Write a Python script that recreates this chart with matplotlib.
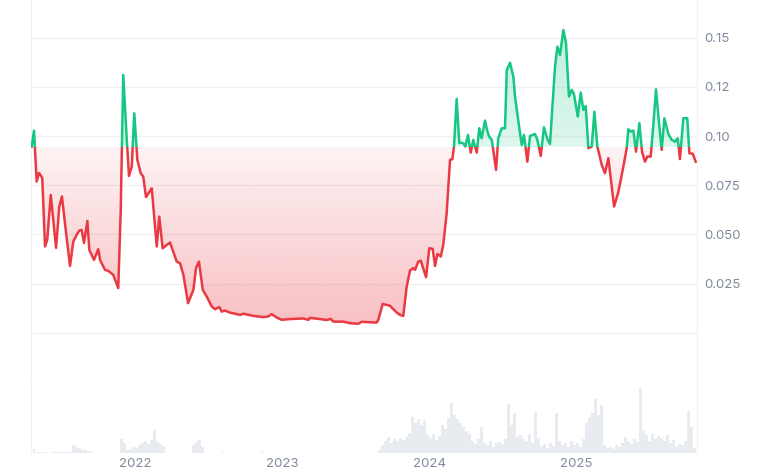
import numpy as np
import matplotlib
matplotlib.use("Agg")
import matplotlib.pyplot as plt
from matplotlib.path import Path
from matplotlib.patches import PathPatch, Rectangle
from matplotlib.colors import to_rgb

plt.rcParams['font.family'] = ['Inter', 'DejaVu Sans']

# price history (decimal year, USD)
years = [2021.297, 2021.313, 2021.331, 2021.347, 2021.369, 2021.388, 2021.403, 2021.427, 2021.444, 2021.463,
         2021.485, 2021.503, 2021.531, 2021.558, 2021.580, 2021.603, 2021.621, 2021.637, 2021.653, 2021.676,
         2021.689, 2021.721, 2021.750, 2021.762, 2021.796, 2021.818, 2021.852, 2021.886, 2021.903, 2021.920,
         2021.944, 2021.959, 2021.978, 2021.995, 2022.016, 2022.039, 2022.056, 2022.075, 2022.114, 2022.148,
         2022.165, 2022.188, 2022.238, 2022.284, 2022.306, 2022.329, 2022.361, 2022.397, 2022.415, 2022.435,
         2022.461, 2022.488, 2022.522, 2022.544, 2022.574, 2022.590, 2022.612, 2022.646, 2022.714, 2022.737,
         2022.805, 2022.873, 2022.907, 2022.930, 2022.964, 2022.998, 2023.054, 2023.145, 2023.179, 2023.190,
         2023.259, 2023.304, 2023.331, 2023.349, 2023.417, 2023.463, 2023.519, 2023.542, 2023.644, 2023.655,
         2023.685, 2023.735, 2023.780, 2023.803, 2023.825, 2023.848, 2023.871, 2023.893, 2023.905, 2023.927,
         2023.944, 2023.980, 2024.002, 2024.025, 2024.041, 2024.057, 2024.080, 2024.097, 2024.120, 2024.143,
         2024.159, 2024.170, 2024.188, 2024.206, 2024.222, 2024.238, 2024.247, 2024.265, 2024.284, 2024.301,
         2024.325, 2024.342, 2024.358, 2024.381, 2024.397, 2024.410, 2024.427, 2024.456, 2024.471, 2024.495,
         2024.517, 2024.529, 2024.551, 2024.574, 2024.585, 2024.619, 2024.631, 2024.646, 2024.669, 2024.687,
         2024.721, 2024.737, 2024.760, 2024.782, 2024.805, 2024.823, 2024.857, 2024.873, 2024.891, 2024.914,
         2024.932, 2024.952, 2024.971, 2024.986, 2025.012, 2025.032, 2025.050, 2025.066, 2025.084, 2025.107,
         2025.125, 2025.145, 2025.175, 2025.197, 2025.220, 2025.259, 2025.288, 2025.322, 2025.345, 2025.356,
         2025.372, 2025.390, 2025.408, 2025.431, 2025.449, 2025.469, 2025.485, 2025.508, 2025.526, 2025.544,
         2025.567, 2025.583, 2025.601, 2025.628, 2025.651, 2025.673, 2025.692, 2025.707, 2025.730, 2025.757,
         2025.771, 2025.794, 2025.814]
prices = [0.0947, 0.1028, 0.0769, 0.0813, 0.0788, 0.0439, 0.0473, 0.0701, 0.0574, 0.0432,
          0.0642, 0.0693, 0.0508, 0.0340, 0.0464, 0.0498, 0.0520, 0.0523, 0.0457, 0.0569,
          0.0422, 0.0371, 0.0425, 0.0371, 0.0320, 0.0315, 0.0295, 0.0227, 0.0625, 0.1311,
          0.0981, 0.0798, 0.0845, 0.1116, 0.0879, 0.0811, 0.0794, 0.0690, 0.0735, 0.0439,
          0.0591, 0.0430, 0.0459, 0.0362, 0.0354, 0.0295, 0.0151, 0.0218, 0.0329, 0.0362,
          0.0218, 0.0184, 0.0134, 0.0120, 0.0131, 0.0108, 0.0113, 0.0103, 0.0091, 0.0097,
          0.0086, 0.0080, 0.0083, 0.0095, 0.0078, 0.0066, 0.0070, 0.0073, 0.0066, 0.0076,
          0.0070, 0.0065, 0.0071, 0.0057, 0.0057, 0.0049, 0.0046, 0.0056, 0.0052, 0.0066,
          0.0147, 0.0137, 0.0103, 0.0091, 0.0086, 0.0235, 0.0317, 0.0329, 0.0320, 0.0362,
          0.0367, 0.0283, 0.0430, 0.0427, 0.0340, 0.0401, 0.0388, 0.0447, 0.0608, 0.0879,
          0.0883, 0.0947, 0.1189, 0.0964, 0.0967, 0.0960, 0.0947, 0.1006, 0.0916, 0.0981,
          0.0916, 0.1040, 0.0989, 0.1079, 0.1023, 0.0997, 0.0981, 0.0828, 0.0989, 0.1040,
          0.1040, 0.1336, 0.1373, 0.1302, 0.1201, 0.1015, 0.0955, 0.1006, 0.0870, 0.1001,
          0.1011, 0.0981, 0.0899, 0.1045, 0.0984, 0.0960, 0.1353, 0.1455, 0.1413, 0.1540,
          0.1472, 0.1201, 0.1235, 0.1214, 0.1099, 0.1221, 0.1133, 0.1153, 0.0939, 0.0947,
          0.1124, 0.0947, 0.0854, 0.0811, 0.0888, 0.0642, 0.0716, 0.0845, 0.0939, 0.1035,
          0.1023, 0.1028, 0.0921, 0.1066, 0.0921, 0.0870, 0.0896, 0.0896, 0.1057, 0.1238,
          0.1048, 0.0930, 0.1091, 0.1011, 0.0981, 0.0972, 0.0989, 0.0883, 0.1091, 0.1091,
          0.0913, 0.0910, 0.0870]
base_price = 0.0945

# trading volume (relative units), evenly spaced over the period
volume = [8, 4,
          1, 1, 1, 1, 0.5, 1, 1, 1, 1, 1, 1, 1,
          8, 6, 5,
          3, 3, 2, 1,
          0.5, 0.5, 0.5, 0.5, 0.5, 0.5, 0.5, 0.5, 0.5,
          14, 10, 3, 4,
          6, 5, 8, 10, 12, 9, 13,
          23, 12, 9, 7,
          0.5, 0.5, 0.5, 0.5, 0.5, 0.5, 0.5, 0.5, 0.5,
          8, 11, 13, 6,
          0.4, 0.4, 0.4, 0.4, 0.4, 0.4, 1.0, 0.4, 0.4, 0.4,
          0.4, 0.4, 0.4, 0.4, 0.4, 0.4, 0.4, 0.4, 0.4, 1.5,
          0.4, 0.4, 0.4, 0.4, 0.4, 0.4, 0.4, 0.4, 0.4, 0.4,
          0.4, 0.4, 0.4, 0.4, 0.4, 0.4, 0.4, 0.4, 0.4, 0.4,
          0.4, 0.4, 0.4, 0.4, 0.4, 0.4, 0.4, 0.4, 0.4, 0.4,
          0.4, 0.4, 0.4, 0.4, 0.4, 0.4, 0.4, 0.4,
          3, 8, 12, 16, 10, 14, 12, 15, 13, 16, 20,
          36, 30, 34, 28, 33,
          18, 15, 19, 13, 17,
          28, 24, 35, 50, 38, 34, 30, 26, 22,
          19, 12, 9, 14, 26, 10, 8, 12, 6, 10, 11,
          9, 14, 49, 28, 40,
          16, 18, 14, 12, 19, 10,
          41, 15, 6, 9, 5, 10, 7,
          40, 12, 8, 10, 6, 12, 8, 10, 6, 14,
          30, 36, 40, 54, 38, 48,
          8, 5, 6, 4, 8, 6,
          10, 16, 12, 9, 14, 11,
          65, 23, 18, 12,
          19, 14, 17, 15, 12, 18,
          10, 13, 6, 9, 8, 12,
          42, 26, 5]
vol_start, vol_end = 2021.2925, 2025.8027

year_ticks = [2022, 2023, 2024, 2025]
price_ticks = [0.025, 0.05, 0.075, 0.10, 0.125, 0.15]
price_labels = ['0.025', '0.050', '0.075', '0.10', '0.12', '0.15']

green = '#16c784'
red = '#ea3943'
grid_col = '#eff1f4'
text_col = '#808a9d'

x = np.array(years)
y = np.array(prices)
xmin, xmax = 2021.2925, 2025.823
ymin, ymax = -0.025, 0.1692

fig = plt.figure(figsize=(7.8, 4.7), dpi=100)
ax = fig.add_axes([31/780, 88/470, 666/780, 382/470])
axv = fig.add_axes([31/780, 17/470, 666/780, 71/470])


def gradient_fill(ax, where, color, a_near, a_far, y_far):
    poly = ax.fill_between(x, y, base_price, where=where, interpolate=True, lw=0)
    path = Path.make_compound_path(*poly.get_paths())
    poly.remove()
    patch = PathPatch(path, transform=ax.transData, facecolor='none', edgecolor='none')
    ax.add_patch(patch)
    img = np.zeros((256, 1, 4))
    img[..., :3] = to_rgb(color)
    lo, hi = sorted([base_price, y_far])
    alphas = np.linspace(a_near, a_far, 256)
    if y_far < base_price:
        alphas = alphas[::-1]
    img[:, 0, 3] = alphas
    im = ax.imshow(img, extent=(xmin, xmax, lo, hi), origin='lower', aspect='auto',
                   interpolation='bilinear', zorder=1)
    im.set_clip_path(patch)


gradient_fill(ax, y <= base_price, red, 0.06, 0.32, 0.004)
gradient_fill(ax, y >= base_price, green, 0.14, 0.28, 0.155)

up = ax.plot(x, y, color=green, lw=1.8, zorder=3, solid_joinstyle='round')[0]
dn = ax.plot(x, y, color=red, lw=1.8, zorder=3, solid_joinstyle='round')[0]
up.set_clip_path(Rectangle((xmin, base_price), xmax - xmin, 1, transform=ax.transData))
dn.set_clip_path(Rectangle((xmin, -1), xmax - xmin, base_price + 1, transform=ax.transData))

for g in [-0.025, 0, 0.025, 0.05, 0.075, 0.10, 0.125, 0.15]:
    ax.axhline(g, color=grid_col, lw=1, zorder=0)

ax.set_xlim(xmin, xmax)
ax.set_ylim(ymin, ymax)
ax.yaxis.tick_right()
ax.set_yticks(price_ticks)
ax.set_yticklabels(price_labels)
ax.tick_params(axis='y', length=0, pad=5, labelsize=9.5, labelcolor=text_col)
ax.set_xticks([])
for s in ['top', 'bottom']:
    ax.spines[s].set_visible(False)
for s in ['left', 'right']:
    ax.spines[s].set_color(grid_col)

vx = np.linspace(vol_start, vol_end, len(volume))
axv.bar(vx, volume, width=0.0204, color='#e8ebef', lw=0)
axv.set_xlim(xmin, xmax)
axv.set_ylim(0, 71)
axv.set_yticks([])
axv.set_xticks(year_ticks)
axv.set_xticklabels([str(t) for t in year_ticks])
axv.tick_params(axis='x', length=0, pad=3.5, labelsize=9.5, labelcolor=text_col)
for s in ['top', 'bottom']:
    axv.spines[s].set_visible(False)
for s in ['left', 'right']:
    axv.spines[s].set_color(grid_col)

fig.savefig('out.png', dpi=100)
